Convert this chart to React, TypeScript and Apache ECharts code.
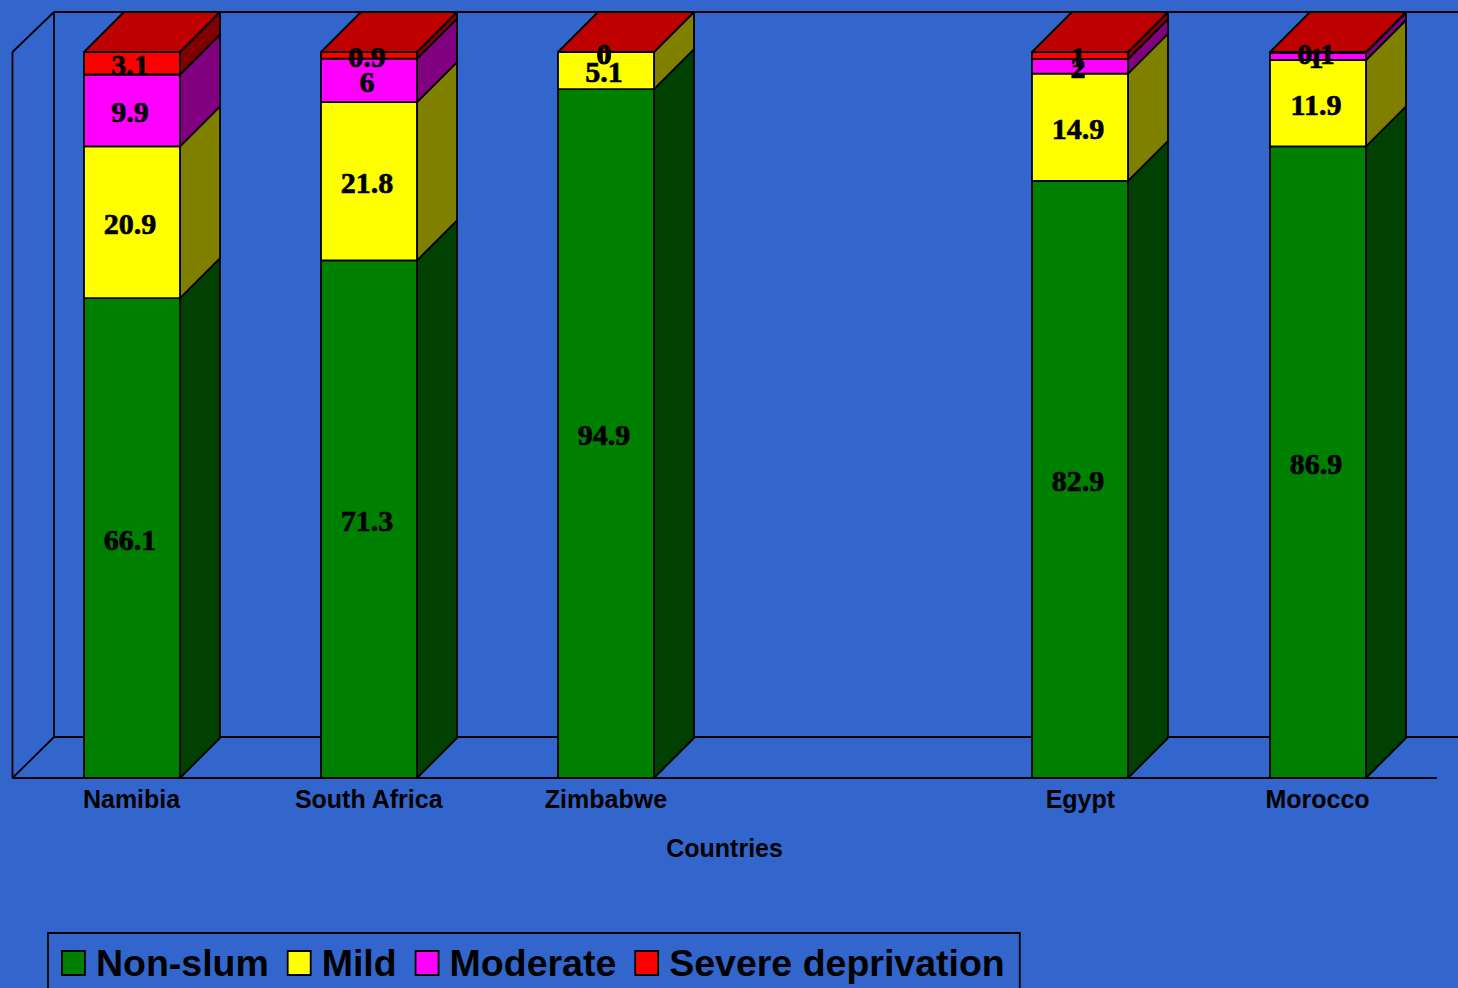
import React, { useEffect, useRef } from "react";
import * as echarts from "echarts";

const categories = ["Namibia", "South Africa", "Zimbabwe", "", "Egypt", "Morocco"];
const seriesNames = ["Non-slum", "Mild", "Moderate", "Severe deprivation"];
const nonSlum = [66.1, 71.3, 94.9, null, 82.9, 86.9];
const mild = [20.9, 21.8, 5.1, null, 14.9, 11.9];
const moderate = [9.9, 6, 0, null, 2, 1];
const severe = [3.1, 0.9, 0, null, 1, 0.1];
const allValues = [nonSlum, mild, moderate, severe];

const frontColors = ["#008000", "#FFFF00", "#FF00FF", "#FF0000"];
const sideColors = ["#004000", "#808000", "#800080", "#800000"];
const topColor = "#BF0000";
const BG = "#3366CC";
const DEPTH = 40;
const BAR_W = 96;
const LW = 1.8;
const LABEL_FONT = 'bold 30px "Liberation Serif"';
const AXIS_FONT = "Liberation Sans";

const GRID = { left: 12.95, right: 21.85, top: 52, bottom: 210 };
const W = 1458;
const H = 988;

function buildSeriesData(seriesIdx: number) {
  const out: (number | null)[][] = [];
  categories.forEach((_, c) => {
    const v = allValues[seriesIdx][c];
    if (v === null) return;
    let total = 0;
    let below = 0;
    allValues.forEach((arr, s) => {
      const x = arr[c] ?? 0;
      total += x;
      if (s < seriesIdx) below += x;
    });
    out.push([c, (below / total) * 100, ((below + v) / total) * 100, v]);
  });
  return out;
}

function makeRenderItem(seriesIdx: number) {
  return (_params: any, api: any) => {
    const c = api.value(0);
    const raw = api.value(3);
    const pBase = api.coord([c, api.value(1)]);
    const pTop = api.coord([c, api.value(2)]);
    const x0 = Math.round(pBase[0] - BAR_W / 2);
    const x1 = x0 + BAR_W;
    const yB = pBase[1];
    const yT = pTop[1];
    const stroke = { stroke: "#000", lineWidth: LW, lineJoin: "round" };
    const children: any[] = [];
    if (yB - yT > 0.01) {
      children.push({
        type: "polygon",
        shape: { points: [[x1, yT], [x1 + DEPTH, yT - DEPTH], [x1 + DEPTH, yB - DEPTH], [x1, yB]] },
        style: { fill: sideColors[seriesIdx], ...stroke },
        z2: 1,
      });
      children.push({
        type: "rect",
        shape: { x: x0, y: yT, width: BAR_W, height: yB - yT },
        style: { fill: frontColors[seriesIdx], ...stroke },
        z2: 2,
      });
    }
    if (seriesIdx === allValues.length - 1) {
      children.push({
        type: "polygon",
        shape: { points: [[x0, yT], [x0 + DEPTH, yT - DEPTH], [x1 + DEPTH, yT - DEPTH], [x1, yT]] },
        style: { fill: topColor, ...stroke },
        z2: 3,
      });
    }
    children.push({
      type: "text",
      style: {
        text: String(raw),
        x: (x0 + x1) / 2 - 2,
        y: (yB + yT) / 2 + 1,
        fill: "#000",
        stroke: "#000",
        lineWidth: 0.7,
        font: LABEL_FONT,
        align: "center",
        verticalAlign: "middle",
      },
      z2: 100,
    });
    return { type: "group", children };
  };
}

function wall(x1: number, y1: number, x2: number, y2: number) {
  return {
    type: "line",
    z: 0,
    silent: true,
    shape: { x1, y1, x2, y2 },
    style: { stroke: "#000", lineWidth: LW },
  };
}

export default function App() {
  const ref = useRef<HTMLDivElement>(null);
  useEffect(() => {
    const chart = echarts.init(ref.current!, null, { renderer: "svg" });
    const bottom = H - GRID.bottom;
    const left = 12.5;
    chart.setOption({
      animation: false,
      backgroundColor: BG,
      grid: { ...GRID },
      legend: {
        left: 48,
        top: 933,
        orient: "horizontal",
        padding: [11, 15, 30, 13],
        backgroundColor: "transparent",
        borderColor: "#000",
        borderWidth: LW,
        itemGap: 18,
        itemWidth: 23,
        itemHeight: 24,
        selectedMode: false,
        icon: "rect",
        itemStyle: { borderColor: "#000", borderWidth: LW },
        textStyle: {
          color: "#000",
          fontFamily: AXIS_FONT,
          fontWeight: "bold",
          fontSize: 37.5,
          padding: [2, 0, 0, 6],
        },
        data: seriesNames,
      },
      xAxis: {
        type: "category",
        data: categories,
        boundaryGap: true,
        axisLine: { show: true, lineStyle: { color: "#000", width: LW } },
        axisTick: { show: false },
        axisLabel: {
          interval: 0,
          margin: 8,
          color: "#000",
          fontFamily: AXIS_FONT,
          fontWeight: "bold",
          fontSize: 25,
        },
        name: "Countries",
        nameLocation: "middle",
        nameGap: 57,
        nameTextStyle: {
          color: "#000",
          fontFamily: AXIS_FONT,
          fontWeight: "bold",
          fontSize: 25,
        },
      },
      yAxis: { type: "value", min: 0, max: 100, show: false, splitLine: { show: false } },
      graphic: [
        wall(left, GRID.top, left + 41.5, GRID.top - DEPTH),
        wall(left, GRID.top, left, bottom),
        wall(left, bottom, left + 41.5, bottom - 41),
        wall(left + 41.5, GRID.top - DEPTH, left + 41.5, bottom - 41),
        wall(left + 41.5, GRID.top - DEPTH, W, GRID.top - DEPTH),
        wall(left + 41.5, bottom - 41, W, bottom - 41),
      ],
      series: seriesNames.map((name, i) => ({
        type: "custom",
        name,
        z: 2,
        clip: false,
        coordinateSystem: "cartesian2d",
        itemStyle: { color: frontColors[i] },
        encode: { x: 0, y: [1, 2] },
        data: buildSeriesData(i),
        renderItem: makeRenderItem(i),
      })),
    });
    return () => chart.dispose();
  }, []);
  return (
    <div
      ref={ref}
      style={{ position: "absolute", left: 0, top: 0, width: W, height: H, overflow: "hidden" }}
    />
  );
}
